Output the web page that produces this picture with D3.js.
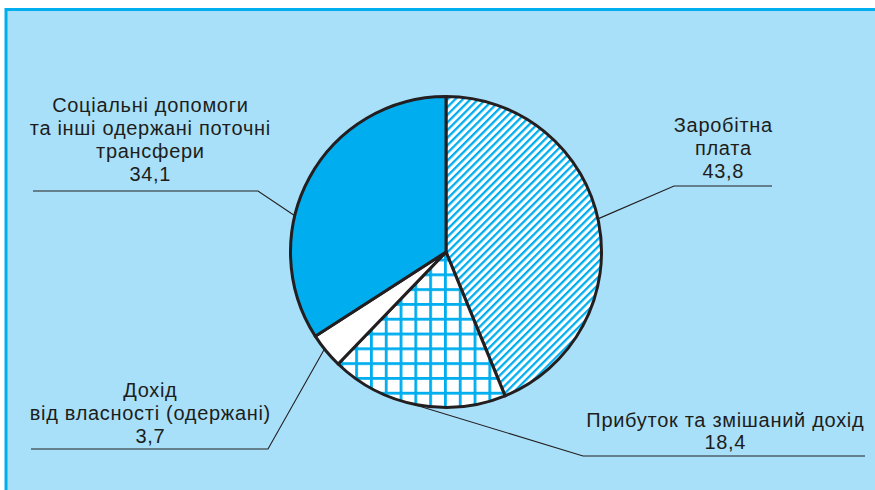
<!DOCTYPE html>
<html>
<head>
<meta charset="utf-8">
<script src="https://cdn.jsdelivr.net/npm/d3@7"></script>
<style>
  html, body { margin: 0; padding: 0; background: #ffffff; }
  svg { display: block; }
  text { font-family: "Liberation Sans", Arial, Helvetica, sans-serif; fill: #1d1d1b; }
</style>
</head>
<body>
<svg id="chart" width="875" height="490"></svg>
<script>
// ---- Data ----
const categories = [
  "Заробітна плата",
  "Прибуток та змішаний дохід",
  "Дохід від власності (одержані)",
  "Соціальні допомоги та інші одержані поточні трансфери"
];
const values = [43.8, 18.4, 3.7, 34.1];
const labelLines = [
  ["Заробітна", "плата"],
  ["Прибуток та змішаний дохід"],
  ["Дохід", "від власності (одержані)"],
  ["Соціальні допомоги", "та інші одержані поточні", "трансфери"]
];
const valueLabels = ["43,8", "18,4", "3,7", "34,1"];

// ---- Layout / style ----
const W = 875, H = 490;
const cx = 446, cy = 252, R = 155.5;
const blue = "#00aeef", bg = "#a9e0f9", ink = "#231f20";
const fills = ["url(#hatch)", "url(#grid)", "#ffffff", blue];
// label blocks: center x, first baseline, line height
const labelPos = [
  { x: 723, y: 132, lh: 23 },
  { x: 725, y: 427, lh: 22 },
  { x: 150, y: 397, lh: 23 },
  { x: 150, y: 112, lh: 23 }
];
// leader: angle (deg, clockwise from 12 o'clock) on pie edge, then elbow, then end of horizontal
const leaders = [
  { a: 77.7, elbow: [674, 186], end: [772, 186] },
  { a: 193.5, elbow: [583, 456], end: [865, 456] },
  { a: 231.4, elbow: [268, 449], end: [31, 449] },
  { a: 283.5, elbow: [258, 191], end: [33, 191] }
];

const svg = d3.select("#chart");
const defs = svg.append("defs");

// diagonal hatch
const hp = 5.4;
const hatch = defs.append("pattern")
  .attr("id", "hatch").attr("patternUnits", "userSpaceOnUse")
  .attr("width", hp).attr("height", hp)
  .attr("patternTransform", "rotate(45)");
hatch.append("rect").attr("width", hp).attr("height", hp).attr("fill", "#fff");
hatch.append("rect").attr("x", 0).attr("y", 0).attr("width", 2.3).attr("height", hp).attr("fill", blue);

// grid
const gp = 14.8;
const grid = defs.append("pattern")
  .attr("id", "grid").attr("patternUnits", "userSpaceOnUse")
  .attr("x", 399 - 1.4).attr("y", 304 - 1.4)
  .attr("width", gp).attr("height", gp);
grid.append("rect").attr("width", gp).attr("height", gp).attr("fill", "#fff");
grid.append("rect").attr("width", 2.8).attr("height", gp).attr("fill", blue);
grid.append("rect").attr("width", gp).attr("height", 2.8).attr("fill", blue);

// frame
svg.append("rect").attr("x", 0).attr("y", 0).attr("width", W).attr("height", H).attr("fill", "#fff");
svg.append("rect").attr("x", 6).attr("y", 9.5).attr("width", W + 10).attr("height", H + 10)
  .attr("fill", bg).attr("stroke", blue).attr("stroke-width", 3);

const rad = d => d * Math.PI / 180;

// leaders
const lg = svg.append("g").attr("fill", "none").attr("stroke", ink).attr("stroke-width", 1.1);
leaders.forEach(l => {
  const sx = cx + R * Math.sin(rad(l.a));
  const sy = cy - R * Math.cos(rad(l.a));
  lg.append("path").attr("d", d3.line()([[sx, sy], l.elbow, l.end]));
});

// pie
const pie = d3.pie().sort(null).value(d => d)(values);
const arc = d3.arc().innerRadius(0).outerRadius(R);
svg.append("g").attr("transform", `translate(${cx},${cy})`)
  .selectAll("path").data(pie).join("path")
  .attr("d", arc)
  .attr("fill", (d, i) => fills[i])
  .attr("stroke", ink).attr("stroke-width", 3).attr("stroke-linejoin", "round");

// labels
const tg = svg.append("g").attr("font-size", 20).attr("letter-spacing", 0.7).attr("text-anchor", "middle");
categories.forEach((c, i) => {
  const p = labelPos[i];
  const lines = labelLines[i].concat([valueLabels[i]]);
  lines.forEach((t, j) => {
    tg.append("text").attr("x", p.x + 0.35).attr("y", p.y + j * p.lh).text(t);
  });
});
</script>
</body>
</html>
